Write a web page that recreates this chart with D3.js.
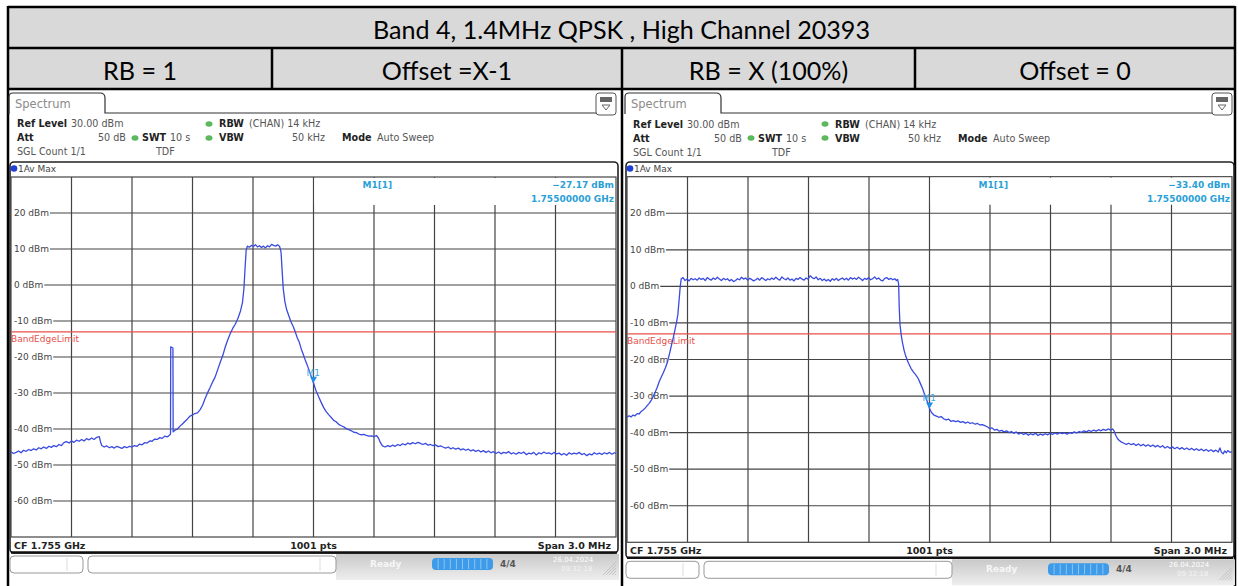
<!DOCTYPE html>
<html>
<head>
<meta charset="utf-8">
<script src="https://cdn.jsdelivr.net/npm/d3@7"></script>
<style>
  body { margin: 0; background: #fff; }
  svg { display: block; }
</style>
</head>
<body>
<svg id="chart" width="1239" height="586"></svg>
<script>
// values
const title = "Band 4, 1.4MHz QPSK , High Channel 20393";
const headerCells = ["RB = 1", "Offset =X-1", "RB = X (100%)", "Offset = 0"];
const levelTicks = [20, 10, 0, -10, -20, -30, -40, -50, -60];
const levelRange = [-70, 30];          // dBm, bottom .. ref level
const spanMHz = [-1.5, 1.5];           // offset from CF 1.755 GHz
const limitDbm = -13;                  // BandEdgeLimit
const markerLevels = [-27.17, -33.40];
const markerFreq = [0, 0];             // M1 sits on the CF

// RB = 1, Offset = X-1   [offset MHz, dBm]
const traceRb1 = [
  [-1.500,-46.3],[-1.488,-46.8],[-1.475,-46.5],[-1.462,-46.1],[-1.450,-46.6],[-1.438,-45.9],[-1.425,-46.2],[-1.412,-45.7],
  [-1.400,-46.0],[-1.388,-45.5],[-1.375,-45.8],[-1.362,-45.2],[-1.350,-45.5],[-1.338,-45.0],[-1.325,-45.4],[-1.312,-44.8],
  [-1.300,-45.1],[-1.288,-44.6],[-1.275,-44.9],[-1.262,-44.3],[-1.250,-44.6],[-1.238,-43.8],[-1.225,-43.5],[-1.212,-43.9],
  [-1.200,-43.3],[-1.188,-43.7],[-1.175,-43.1],[-1.162,-43.4],[-1.150,-42.9],[-1.138,-43.3],[-1.125,-42.7],[-1.112,-43.0],
  [-1.100,-42.5],[-1.088,-42.9],[-1.075,-42.3],[-1.062,-42.1],[-1.056,-43.6],[-1.050,-44.6],[-1.038,-45.0],[-1.025,-44.7],
  [-1.012,-45.2],[-1.000,-44.9],[-0.988,-45.3],[-0.975,-44.8],[-0.962,-45.1],[-0.950,-45.4],[-0.938,-44.9],[-0.925,-45.2],
  [-0.912,-44.8],[-0.900,-45.0],[-0.888,-44.6],[-0.875,-44.8],[-0.862,-44.2],[-0.850,-44.4],[-0.838,-43.8],[-0.825,-43.9],
  [-0.812,-43.3],[-0.800,-43.4],[-0.788,-42.8],[-0.775,-42.9],[-0.762,-42.4],[-0.750,-42.6],[-0.738,-42.0],[-0.725,-42.2],
  [-0.712,-41.6],[-0.709,-41.4],[-0.708,-17.2],[-0.697,-17.5],[-0.696,-40.8],[-0.688,-40.4],[-0.675,-40.0],[-0.662,-39.2],
  [-0.650,-38.6],[-0.638,-37.9],[-0.625,-37.2],[-0.612,-36.4],[-0.600,-36.1],[-0.588,-35.7],[-0.575,-35.5],[-0.562,-34.6],
  [-0.550,-33.4],[-0.538,-31.6],[-0.525,-29.9],[-0.512,-28.4],[-0.500,-26.9],[-0.488,-25.6],[-0.475,-23.5],[-0.462,-21.4],
  [-0.450,-19.6],[-0.438,-17.3],[-0.425,-15.2],[-0.412,-13.4],[-0.400,-12.0],[-0.388,-10.9],[-0.375,-9.3],[-0.362,-7.2],
  [-0.352,-4.8],[-0.345,-1.0],[-0.339,5.0],[-0.334,9.6],[-0.328,10.8],[-0.318,10.5],[-0.308,11.0],[-0.298,10.7],
  [-0.288,11.2],[-0.278,10.6],[-0.268,10.9],[-0.258,10.4],[-0.248,10.8],[-0.238,10.3],[-0.228,10.9],[-0.218,10.6],
  [-0.208,11.3],[-0.198,11.0],[-0.188,10.8],[-0.178,11.2],[-0.168,10.7],[-0.161,9.2],[-0.155,3.5],[-0.150,-1.0],
  [-0.142,-4.6],[-0.133,-6.9],[-0.122,-8.6],[-0.112,-10.2],[-0.100,-11.6],[-0.090,-13.1],[-0.080,-14.7],[-0.070,-16.0],
  [-0.060,-17.9],[-0.050,-19.4],[-0.040,-21.0],[-0.030,-22.4],[-0.020,-24.0],[-0.010,-25.6],[0.000,-27.2],[0.012,-29.3],
  [0.025,-31.0],[0.038,-32.6],[0.050,-34.0],[0.062,-35.1],[0.075,-36.0],[0.088,-36.8],[0.100,-37.6],[0.112,-38.0],
  [0.125,-38.7],[0.138,-39.1],[0.150,-39.4],[0.162,-39.9],[0.175,-40.2],[0.188,-40.5],[0.200,-40.9],[0.212,-41.0],
  [0.225,-41.4],[0.238,-41.6],[0.250,-41.5],[0.262,-41.8],[0.275,-42.0],[0.288,-41.9],[0.300,-42.1],[0.312,-41.8],
  [0.322,-42.5],[0.332,-43.8],[0.342,-44.7],[0.355,-45.0],[0.368,-44.6],[0.380,-44.9],[0.392,-44.5],[0.405,-44.8],
  [0.418,-44.3],[0.430,-44.6],[0.442,-44.1],[0.455,-44.4],[0.468,-43.9],[0.480,-44.2],[0.492,-43.8],[0.505,-44.1],
  [0.518,-43.7],[0.530,-44.0],[0.542,-44.3],[0.555,-44.0],[0.568,-44.5],[0.580,-44.3],[0.592,-44.6],[0.605,-44.4],
  [0.618,-44.9],[0.630,-44.7],[0.642,-45.0],[0.655,-45.3],[0.668,-45.0],[0.680,-45.5],[0.692,-45.2],[0.705,-45.6],
  [0.718,-45.3],[0.730,-45.8],[0.742,-45.5],[0.755,-45.9],[0.768,-45.6],[0.780,-46.1],[0.792,-45.8],[0.805,-46.2],
  [0.818,-45.9],[0.830,-46.4],[0.842,-46.0],[0.855,-46.5],[0.868,-46.1],[0.880,-46.6],[0.892,-46.3],[0.905,-46.8],
  [0.918,-46.4],[0.930,-46.9],[0.942,-46.5],[0.955,-46.7],[0.968,-46.3],[0.980,-46.9],[0.992,-46.6],[1.005,-47.0],
  [1.018,-46.5],[1.030,-46.8],[1.042,-46.4],[1.055,-47.1],[1.068,-46.7],[1.080,-46.9],[1.092,-46.5],[1.105,-47.2],
  [1.118,-46.6],[1.130,-46.9],[1.142,-46.4],[1.155,-46.8],[1.168,-46.6],[1.180,-47.0],[1.192,-46.5],[1.205,-46.9],
  [1.218,-46.7],[1.230,-47.2],[1.242,-46.8],[1.255,-47.3],[1.268,-46.6],[1.280,-47.0],[1.292,-46.7],[1.305,-46.9],
  [1.318,-46.5],[1.330,-47.1],[1.342,-46.8],[1.355,-47.4],[1.368,-46.9],[1.380,-47.2],[1.392,-46.6],[1.405,-47.0],
  [1.418,-46.7],[1.430,-47.1],[1.442,-46.6],[1.455,-46.9],[1.468,-46.5],[1.480,-47.0],[1.492,-46.6],[1.500,-46.8]
];

// RB = X (100%), Offset = 0   [offset MHz, dBm]
const traceRbFull = [
  [-1.500,-35.8],[-1.490,-35.4],[-1.480,-35.7],[-1.470,-35.2],[-1.460,-35.4],[-1.450,-34.8],[-1.440,-34.9],[-1.430,-34.2],
  [-1.420,-33.8],[-1.410,-33.3],[-1.400,-32.6],[-1.390,-32.0],[-1.380,-31.2],[-1.370,-30.1],[-1.360,-28.9],[-1.350,-27.6],
  [-1.340,-26.0],[-1.330,-24.8],[-1.320,-23.6],[-1.310,-22.3],[-1.300,-20.8],[-1.290,-18.6],[-1.280,-16.2],[-1.270,-13.9],
  [-1.262,-11.8],[-1.255,-10.0],[-1.248,-7.8],[-1.242,-4.0],[-1.236,0.0],[-1.231,2.1],[-1.222,2.4],[-1.212,1.6],
  [-1.202,2.0],[-1.192,1.5],[-1.182,2.2],[-1.172,1.8],[-1.162,2.1],[-1.152,1.7],[-1.142,2.3],[-1.132,1.9],
  [-1.122,2.2],[-1.112,1.6],[-1.102,2.4],[-1.092,2.0],[-1.082,1.7],[-1.072,2.3],[-1.062,1.9],[-1.052,2.5],
  [-1.042,2.0],[-1.032,1.6],[-1.022,2.2],[-1.012,1.8],[-1.002,2.1],[-0.992,1.5],[-0.982,1.9],[-0.972,1.3],
  [-0.962,1.6],[-0.952,2.1],[-0.942,1.8],[-0.932,2.5],[-0.922,2.0],[-0.912,2.3],[-0.902,1.7],[-0.892,2.2],
  [-0.882,1.9],[-0.872,1.5],[-0.862,1.8],[-0.852,2.2],[-0.842,1.7],[-0.832,2.4],[-0.822,2.0],[-0.812,1.6],
  [-0.802,2.1],[-0.792,1.8],[-0.782,2.3],[-0.772,1.9],[-0.762,2.5],[-0.752,2.0],[-0.742,1.7],[-0.732,2.6],
  [-0.722,2.1],[-0.712,1.8],[-0.702,2.3],[-0.692,1.7],[-0.682,2.0],[-0.672,1.5],[-0.662,2.2],[-0.652,1.9],
  [-0.642,2.4],[-0.632,2.0],[-0.622,1.7],[-0.612,2.3],[-0.602,2.0],[-0.592,2.9],[-0.582,2.4],[-0.572,2.1],
  [-0.562,2.6],[-0.552,1.8],[-0.542,2.2],[-0.532,1.6],[-0.522,2.0],[-0.512,1.5],[-0.502,1.9],[-0.492,1.4],
  [-0.482,2.1],[-0.472,1.7],[-0.462,2.2],[-0.452,1.6],[-0.442,2.0],[-0.432,2.3],[-0.422,1.8],[-0.412,2.2],
  [-0.402,1.7],[-0.392,2.4],[-0.382,2.0],[-0.372,2.3],[-0.362,1.9],[-0.352,2.5],[-0.342,2.1],[-0.332,1.6],
  [-0.322,2.2],[-0.312,1.9],[-0.302,2.4],[-0.292,1.8],[-0.282,2.1],[-0.272,2.6],[-0.262,2.0],[-0.252,2.3],
  [-0.242,1.7],[-0.232,1.5],[-0.222,2.2],[-0.212,2.4],[-0.202,1.9],[-0.192,2.2],[-0.182,1.8],[-0.172,2.1],
  [-0.164,1.6],[-0.158,1.9],[-0.153,0.6],[-0.150,-6.0],[-0.146,-10.6],[-0.140,-13.4],[-0.134,-15.4],[-0.126,-17.5],
  [-0.117,-19.2],[-0.105,-20.9],[-0.092,-22.4],[-0.080,-23.4],[-0.068,-24.2],[-0.056,-25.2],[-0.045,-26.6],[-0.034,-28.0],
  [-0.022,-29.9],[-0.010,-31.6],[0.000,-33.4],[0.010,-34.5],[0.022,-35.2],[0.034,-35.5],[0.046,-35.8],[0.058,-35.6],
  [0.070,-36.2],[0.082,-36.5],[0.094,-36.3],[0.106,-36.9],[0.118,-36.7],[0.130,-37.0],[0.142,-36.8],[0.154,-37.2],
  [0.166,-37.0],[0.178,-37.4],[0.190,-37.1],[0.202,-37.5],[0.214,-37.3],[0.226,-37.7],[0.238,-37.5],[0.250,-37.9],
  [0.262,-37.8],[0.274,-38.1],[0.286,-38.4],[0.298,-38.9],[0.310,-38.7],[0.322,-39.3],[0.334,-39.1],[0.346,-39.6],
  [0.358,-39.4],[0.370,-39.8],[0.382,-39.5],[0.394,-40.0],[0.406,-39.7],[0.418,-40.2],[0.430,-39.8],[0.442,-40.4],
  [0.454,-40.1],[0.466,-40.5],[0.478,-40.2],[0.490,-40.7],[0.502,-40.3],[0.514,-40.6],[0.526,-40.2],[0.538,-40.8],
  [0.550,-40.4],[0.562,-40.7],[0.574,-40.3],[0.586,-40.6],[0.598,-40.2],[0.610,-40.5],[0.622,-40.1],[0.634,-40.4],
  [0.646,-40.0],[0.658,-40.3],[0.670,-40.1],[0.682,-40.4],[0.694,-40.0],[0.706,-40.2],[0.718,-39.8],[0.730,-40.1],
  [0.742,-39.7],[0.754,-39.9],[0.766,-39.5],[0.778,-39.8],[0.790,-39.4],[0.802,-39.7],[0.814,-39.3],[0.826,-39.6],
  [0.838,-39.2],[0.850,-39.5],[0.862,-39.1],[0.874,-39.4],[0.886,-39.0],[0.898,-39.3],[0.908,-39.0],[0.916,-39.6],
  [0.924,-40.8],[0.932,-41.6],[0.940,-42.1],[0.952,-42.6],[0.964,-42.9],[0.976,-43.2],[0.988,-42.9],[1.000,-43.3],
  [1.012,-43.0],[1.024,-43.5],[1.036,-43.1],[1.048,-43.6],[1.060,-43.2],[1.072,-43.7],[1.084,-43.3],[1.096,-43.8],
  [1.108,-43.4],[1.120,-43.9],[1.132,-43.5],[1.144,-44.0],[1.156,-43.6],[1.168,-44.2],[1.180,-43.8],[1.192,-44.3],
  [1.204,-43.9],[1.216,-44.4],[1.228,-44.0],[1.240,-44.5],[1.252,-44.1],[1.264,-44.6],[1.276,-44.2],[1.288,-44.7],
  [1.300,-44.3],[1.312,-44.8],[1.324,-44.4],[1.336,-44.9],[1.348,-44.5],[1.360,-45.0],[1.372,-44.6],[1.384,-45.1],
  [1.396,-44.7],[1.408,-45.2],[1.420,-44.8],[1.432,-45.3],[1.440,-44.2],[1.448,-45.4],[1.456,-45.8],[1.464,-45.0],
  [1.472,-45.5],[1.480,-44.9],[1.490,-45.4],[1.500,-45.2]
];

const svg = d3.select("#chart");
const instFont = "'DejaVu Sans', Verdana, sans-serif";
const docFont = "Lato, 'Open Sans', sans-serif";

// ---------- Word table header ----------
const tableL = 8, tableR = 1235, midX = 622;
svg.append("rect").attr("x", tableL).attr("y", 7).attr("width", tableR - tableL).attr("height", 82).attr("fill", "#d9d9d9");

const titleText = svg.append("text")
    .attr("x", (tableL + tableR) / 2).attr("y", 29)
    .attr("text-anchor", "middle").attr("dominant-baseline", "central")
    .attr("font-family", docFont).attr("font-size", 24).attr("fill", "#000")
    .text(title);
// fit the heading to the width it has in the picture
const docSize = 24 * 497 / titleText.node().getComputedTextLength();
titleText.attr("font-size", docSize);

const cellEdges = [tableL, 272, midX, 915, tableR];
headerCells.forEach((t, i) => {
    svg.append("text")
        .attr("x", (cellEdges[i] + cellEdges[i + 1]) / 2).attr("y", 70)
        .attr("text-anchor", "middle").attr("dominant-baseline", "central")
        .attr("font-family", docFont).attr("font-size", docSize).attr("fill", "#000")
        .text(t);
});

const borders = svg.append("g").attr("stroke", "#000").attr("stroke-width", 2.5);
[7, 48, 89].forEach(y => borders.append("line").attr("x1", tableL).attr("x2", tableR).attr("y1", y).attr("y2", y));
[tableL, tableR].forEach(x => borders.append("line").attr("x1", x).attr("x2", x).attr("y1", 6).attr("y2", 586));
borders.append("line").attr("x1", midX).attr("x2", midX).attr("y1", 48).attr("y2", 586);
[272, 915].forEach(x => borders.append("line").attr("x1", x).attr("x2", x).attr("y1", 48).attr("y2", 89));

// ---------- spectrum screenshots ----------
const panels = [
    { dx: 0, plotT: 177, plotB: 537, trace: traceRb1, marker: 0 },
    { dx: 616, plotT: 176.7, plotB: 542.3, trace: traceRbFull, marker: 1 }
];

const grad = svg.append("defs").append("linearGradient").attr("id", "barGrad").attr("x1", 0).attr("x2", 0).attr("y1", 0).attr("y2", 1);
grad.append("stop").attr("offset", 0).attr("stop-color", "#c9c9c9");
grad.append("stop").attr("offset", 1).attr("stop-color", "#eeeeee");

panels.forEach((p, pi) => {
    const dx = p.dx;
    const plotL = 11 + dx, plotR = 616 + dx;
    const g = svg.append("g");

    const x = d3.scaleLinear().domain(spanMHz).range([plotL, plotR]);
    const y = d3.scaleLinear().domain(levelRange).range([p.plotB, p.plotT]);

    // tab + tool icon
    g.append("path")
        .attr("d", `M${9 + dx},114 L${9 + dx},97 Q${9 + dx},93 ${13 + dx},93 L${100 + dx},93 Q${105 + dx},93 ${105 + dx},98 L${105 + dx},113 L${596 + dx},113`)
        .attr("fill", "none").attr("stroke", "#333").attr("stroke-width", 1.2);
    g.append("text").attr("x", 15 + dx).attr("y", 108)
        .attr("font-family", instFont).attr("font-size", 11.5).attr("fill", "#8a8a8a").text("Spectrum");
    g.append("rect").attr("x", 596 + dx).attr("y", 93).attr("width", 20).attr("height", 22).attr("rx", 3)
        .attr("fill", "#fff").attr("stroke", "#555");
    g.append("rect").attr("x", 600 + dx).attr("y", 97).attr("width", 12).attr("height", 5).attr("fill", "#666");
    g.append("path").attr("d", `M${602 + dx},105 L${610 + dx},105 L${606 + dx},110 Z`).attr("fill", "none").attr("stroke", "#666");

    // setting lines
    const info = [
        [17, 127, "Ref Level", true], [71, 127, "30.00 dBm"], [219, 127, "RBW", true], [249, 127, "(CHAN) 14 kHz"],
        [17, 141, "Att", true], [98, 141, "50 dB"], [142, 141, "SWT", true], [170, 141, "10 s"],
        [219, 141, "VBW", true], [292, 141, "50 kHz"], [342, 141, "Mode", true], [377, 141, "Auto Sweep"],
        [17, 155, "SGL Count 1/1"], [156, 155, "TDF"]
    ];
    info.forEach(d => {
        g.append("text").attr("x", d[0] + dx).attr("y", d[1] + (pi ? 0.5 : 0))
            .attr("font-family", instFont).attr("font-size", 9.6)
            .attr("font-weight", d[3] ? "bold" : "normal")
            .attr("fill", d[3] ? "#222" : "#555").text(d[2]);
    });
    [[209, 124], [135, 138], [209, 138]].forEach(c => {
        g.append("ellipse").attr("cx", c[0] + dx).attr("cy", c[1]).attr("rx", 3.5).attr("ry", 2.8).attr("fill", "#5cb85c");
    });

    // diagram frame
    const statusB = p.plotB + 16;
    g.append("rect").attr("x", 10 + dx).attr("y", 162).attr("width", 608).attr("height", statusB - 162)
        .attr("rx", 4).attr("fill", "#fff").attr("stroke", "#222").attr("stroke-width", 1.6);
    g.append("line").attr("x1", 11 + dx).attr("x2", 617 + dx).attr("y1", statusB - 0.5).attr("y2", statusB - 0.5)
        .attr("stroke", "#111").attr("stroke-width", 2.5);
    g.append("circle").attr("cx", 14 + dx).attr("cy", 168.5).attr("r", 3.3).attr("fill", "#1f3fd6");
    g.append("text").attr("x", 18 + dx).attr("y", 172).attr("font-family", instFont).attr("font-size", 9)
        .attr("fill", "#444").text("1Av Max");

    // grid
    const grid = g.append("g").attr("stroke", "#444").attr("stroke-width", 1.2);
    grid.append("rect").attr("x", plotL).attr("y", p.plotT).attr("width", plotR - plotL).attr("height", p.plotB - p.plotT)
        .attr("fill", "none");
    const vDiv = d3.range(1, 10).map(i => spanMHz[0] + i * (spanMHz[1] - spanMHz[0]) / 10);
    vDiv.forEach(f => {
        grid.append("line").attr("x1", x(f)).attr("x2", x(f)).attr("y1", p.plotT).attr("y2", p.plotB);
    });
    levelTicks.forEach(v => {
        const lbl = g.append("text").attr("x", plotL + 3).attr("y", y(v)).attr("dominant-baseline", "central")
            .attr("font-family", instFont).attr("font-size", 9).attr("fill", "#444")
            .text(v + " dBm");
        const w = lbl.node().getComputedTextLength();
        grid.append("line").attr("x1", plotL + 4 + w).attr("x2", plotR).attr("y1", y(v)).attr("y2", y(v));
    });

    // marker readout box covers the upper grid on the right half
    g.append("rect").attr("x", x(0) + 1).attr("y", p.plotT + 1).attr("width", plotR - x(0) - 2).attr("height", 27)
        .attr("fill", "#fff");
    const mInfo = g.append("g").attr("font-family", instFont).attr("font-size", 9).attr("font-weight", "bold")
        .attr("fill", "#2a9fd6");
    mInfo.append("text").attr("x", x(0) + 49).attr("y", p.plotT + 11).text("M1[1]");
    mInfo.append("text").attr("x", plotR - 2).attr("y", p.plotT + 11).attr("text-anchor", "end")
        .text(d3.format(".2f")(markerLevels[p.marker]) + " dBm");
    mInfo.append("text").attr("x", plotR - 2).attr("y", p.plotT + 25).attr("text-anchor", "end")
        .text("1.75500000 GHz");

    // limit line
    g.append("line").attr("x1", plotL).attr("x2", plotR).attr("y1", y(limitDbm)).attr("y2", y(limitDbm))
        .attr("stroke", "#e8504a").attr("stroke-width", 1.2);
    g.append("text").attr("x", plotL).attr("y", y(limitDbm) + 10.5).attr("font-family", instFont)
        .attr("font-size", 9).attr("fill", "#e8504a").text("BandEdgeLimit");

    // trace
    const clipId = "clip" + pi;
    g.append("clipPath").attr("id", clipId).append("rect")
        .attr("x", plotL).attr("y", p.plotT).attr("width", plotR - plotL).attr("height", p.plotB - p.plotT);
    g.append("path").datum(p.trace)
        .attr("clip-path", `url(#${clipId})`)
        .attr("fill", "none").attr("stroke", "#3a4be0").attr("stroke-width", 1.3).attr("stroke-linejoin", "round")
        .attr("d", d3.line().x(d => x(d[0])).y(d => y(d[1])));

    // marker
    const mx = x(markerFreq[p.marker]), my = y(markerLevels[p.marker]);
    g.append("path").attr("d", `M${mx - 3.5},${my - 6} L${mx + 3.5},${my - 6} L${mx},${my} Z`).attr("fill", "#1e8fe0");
    g.append("text").attr("x", mx - 7).attr("y", my - 7).attr("font-family", instFont).attr("font-size", 9)
        .attr("fill", "#3fa9e6").text("M1");

    // status line
    const st = g.append("g").attr("font-family", instFont).attr("font-size", 9.5).attr("font-weight", "bold").attr("fill", "#222");
    st.append("text").attr("x", plotL + 3).attr("y", p.plotB + 12).text("CF 1.755 GHz");
    st.append("text").attr("x", x(0)).attr("y", p.plotB + 12).attr("text-anchor", "middle").text("1001 pts");
    st.append("text").attr("x", plotR - 5).attr("y", p.plotB + 12).attr("text-anchor", "end").text("Span 3.0 MHz");

    // bottom tool bar
    const bt = statusB + 3;
    g.append("rect").attr("x", 336 + dx).attr("y", statusB + 1).attr("width", 283).attr("height", 26).attr("fill", "url(#barGrad)");
    g.append("rect").attr("x", 10 + dx).attr("y", bt).attr("width", 73).attr("height", 17).attr("rx", 4)
        .attr("fill", "#fff").attr("stroke", "#999");
    g.append("line").attr("x1", 67 + dx).attr("x2", 67 + dx).attr("y1", bt + 2).attr("y2", bt + 15).attr("stroke", "#ddd");
    g.append("rect").attr("x", 88 + dx).attr("y", bt).attr("width", 248).attr("height", 17).attr("rx", 4)
        .attr("fill", "#fff").attr("stroke", "#999");
    g.append("line").attr("x1", 320 + dx).attr("x2", 320 + dx).attr("y1", bt + 2).attr("y2", bt + 15).attr("stroke", "#ddd");
    g.append("text").attr("x", 370 + dx).attr("y", bt + 11).attr("font-family", instFont).attr("font-size", 9)
        .attr("font-weight", "bold").attr("fill", "#fff").attr("opacity", 0.8).text("Ready");
    g.append("rect").attr("x", 432 + dx).attr("y", bt + 2).attr("width", 61).attr("height", 12).attr("rx", 4).attr("fill", "#3d9be9");
    d3.range(1, 10).forEach(i => {
        g.append("line").attr("x1", 432 + dx + i * 6.1).attr("x2", 432 + dx + i * 6.1).attr("y1", bt + 3).attr("y2", bt + 13)
            .attr("stroke", "#9fd0f5").attr("stroke-width", 0.8);
    });
    g.append("text").attr("x", 500 + dx).attr("y", bt + 11).attr("font-family", instFont).attr("font-size", 9)
        .attr("font-weight", "bold").attr("fill", "#555").text("4/4");
    g.append("text").attr("x", 553 + dx).attr("y", bt + 6).attr("font-family", instFont).attr("font-size", 7)
        .attr("fill", "#fff").text("26.04.2024");
    g.append("text").attr("x", 561 + dx).attr("y", bt + 15).attr("font-family", instFont).attr("font-size", 7)
        .attr("fill", "#fff").attr("opacity", 0.7).text("09:32:18");
    d3.range(0, 5).forEach(i => {
        g.append("line").attr("x1", 603 + dx + i * 3).attr("x2", 616 + dx).attr("y1", bt + 19).attr("y2", bt + 6 + i * 3)
            .attr("stroke", "#bbb").attr("stroke-width", 0.8);
    });
});
</script>
</body>
</html>
